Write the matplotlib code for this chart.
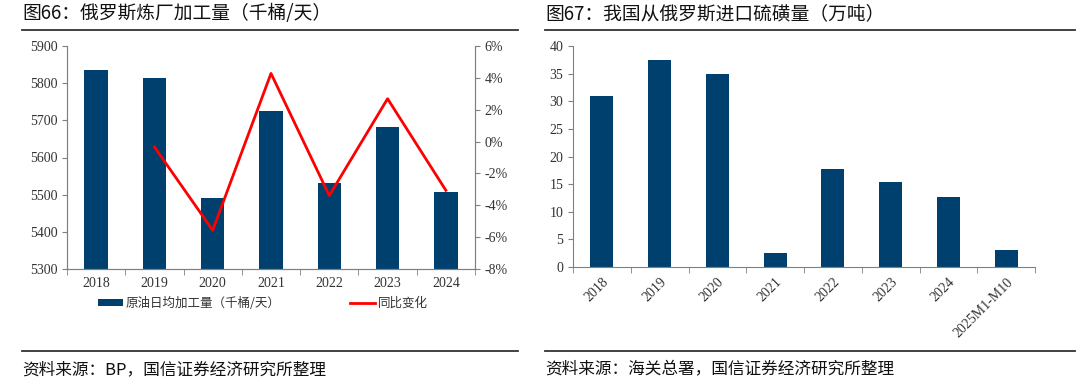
import matplotlib
matplotlib.use("Agg")
import matplotlib.pyplot as plt
from matplotlib.lines import Line2D
import numpy as np

plt.rcParams['font.family'] = ['Noto Sans CJK SC', 'DejaVu Sans']

# 图66 数据
years_66 = ["2018", "2019", "2020", "2021", "2022", "2023", "2024"]
refining = [5835, 5815, 5491, 5726, 5532, 5681, 5507]
yoy_pct = [None, -0.34, -5.57, 4.28, -3.39, 2.69, -3.06]

# 图67 数据
labels_67 = ["2018", "2019", "2020", "2021", "2022", "2023", "2024", "2025M1-M10"]
sulfur = [30.9, 37.5, 34.9, 2.6, 17.8, 15.3, 12.6, 3.1]

BAR = "#00406F"
SPINE = "#808080"
SERIF = "Liberation Serif"
W, H = 1080, 382


def px(x0, y0, x1, y1):
    # 像素坐标 -> figure 坐标 [left, bottom, width, height]
    return [x0 / W, 1 - y1 / H, (x1 - x0) / W, (y1 - y0) / H]


def style_ax(ax):
    for s in ax.spines.values():
        s.set_color(SPINE)
    ax.tick_params(axis="both", colors=SPINE, labelcolor="#333333", labelsize=10)
    for lab in ax.get_yticklabels() + ax.get_xticklabels():
        lab.set_family(SERIF)


fig = plt.figure(figsize=(W / 100, H / 100), dpi=100)
fig.patch.set_facecolor("white")

# ---- 左图 ----
ax1 = fig.add_axes(px(67, 46, 475, 269))
x1 = np.arange(len(years_66))
ax1.bar(x1, refining, width=0.4, color=BAR, label="原油日均加工量（千桶/天）", zorder=2)
ax1.set_xlim(-0.5, len(years_66) - 0.5)
ax1.set_ylim(5300, 5900)
ax1.set_yticks(np.arange(5300, 5901, 100))
ax1.set_xticks(x1)
ax1.set_xticklabels(years_66)
ax1.set_xticks(np.arange(-0.5, len(years_66)), minor=True)
ax1.tick_params(axis="x", which="major", length=0, pad=6)
ax1.tick_params(axis="x", which="minor", length=4, color=SPINE)
ax1.spines["top"].set_visible(False)
style_ax(ax1)

ax2 = ax1.twinx()
yx = [i for i, v in enumerate(yoy_pct) if v is not None]
yv = [v for v in yoy_pct if v is not None]
ax2.plot(yx, yv, color="#FF0000", lw=2, label="同比变化")
ax2.set_ylim(-8, 6)
ax2.set_yticks(np.arange(-8, 7, 2))
ax2.set_yticklabels([f"{v}%" for v in range(-8, 7, 2)])
ax2.spines["top"].set_visible(False)
style_ax(ax2)

h1, l1 = ax1.get_legend_handles_labels()
h2, l2 = ax2.get_legend_handles_labels()
leg = ax1.legend(h1 + h2, l1 + l2, ncol=2, loc="upper center",
                 bbox_to_anchor=(0.48, -0.075), frameon=False, fontsize=9,
                 handlelength=2.0, handletextpad=0.25, columnspacing=5.5,
                 handleheight=0.5)
for t in leg.get_texts():
    t.set_color("#333333")

# ---- 右图 ----
ax3 = fig.add_axes(px(573, 46, 1035, 267))
x3 = np.arange(len(labels_67))
ax3.bar(x3, sulfur, width=0.4, color=BAR, zorder=2)
ax3.set_xlim(-0.5, len(labels_67) - 0.5)
ax3.set_ylim(0, 40)
ax3.set_yticks(np.arange(0, 41, 5))
ax3.set_xticks(x3)
ax3.set_xticklabels(labels_67, rotation=45, ha="right", rotation_mode="anchor")
ax3.set_xticks(np.arange(-0.5, len(labels_67)), minor=True)
ax3.tick_params(axis="x", which="major", length=0, pad=6)
ax3.tick_params(axis="x", which="minor", length=4, color=SPINE)
ax3.spines["top"].set_visible(False)
ax3.spines["right"].set_visible(False)
style_ax(ax3)

# ---- 标题、来源与分隔线 ----
fig.text(22 / W, 1 - 14 / H, "图66：俄罗斯炼厂加工量（千桶/天）", fontsize=13.5,
         va="center", ha="left", color="#111111")
fig.text(545 / W, 1 - 14 / H, "图67：我国从俄罗斯进口硫磺量（万吨）", fontsize=13.5,
         va="center", ha="left", color="#111111")
fig.text(22 / W, 1 - 370 / H, "资料来源：BP，国信证券经济研究所整理", fontsize=12,
         va="center", ha="left", color="#111111")
fig.text(545 / W, 1 - 370 / H, "资料来源：海关总署，国信证券经济研究所整理", fontsize=12,
         va="center", ha="left", color="#111111")

for (xa, xb) in [(22, 518), (545, 1075)]:
    for yy in (30, 351):
        fig.add_artist(Line2D([xa / W, xb / W], [1 - yy / H, 1 - yy / H],
                              color="#333333", lw=1.3))

fig.savefig("out.png", dpi=100, facecolor="white")
